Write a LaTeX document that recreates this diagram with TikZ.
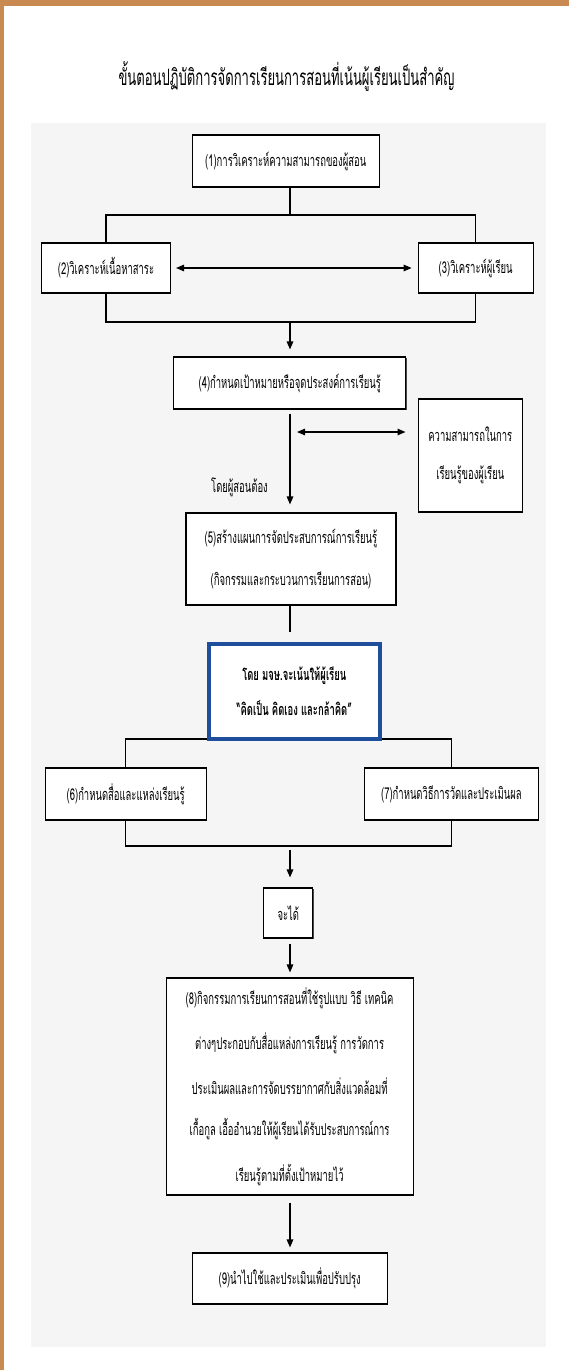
\documentclass[tikz,border=0pt]{standalone}
\usepackage{fontspec}
\newfontfamily\thaifont[Script=Thai,FakeStretch=0.58]{Loma}
\usetikzlibrary{arrows.meta,shadows}
\definecolor{wood}{HTML}{C98A52}
\definecolor{panelgray}{HTML}{F5F5F5}
\definecolor{frameblue}{HTML}{1F4F9C}

\begin{document}
\begin{tikzpicture}[
    x=1pt, y=-1pt,
    every node/.style={font=\thaifont\fontsize{16.3}{17}\selectfont},
    stepbox/.style={draw, line width=1.1pt, fill=white, align=center, inner sep=0pt,
        drop shadow={shadow xshift=0.8pt, shadow yshift=-1pt, opacity=0.7, fill=black}},
    link/.style={line width=1.3pt},
    flow/.style={link, -{Triangle[length=8pt,width=6.5pt]}},
    twoway/.style={link, {Triangle[length=8pt,width=6.5pt]}-{Triangle[length=8pt,width=6.5pt]}},
]
\useasboundingbox (0,0) rectangle (569,1370);

% page, wooden frame and grey panel
\fill[white] (0,0) rectangle (569,1370);
\fill[wood] (0,0) rectangle (569,6);
\fill[wood] (0,0) rectangle (3.5,1370);
\fill[panelgray] (31,123) rectangle (546,1347);

\node (title) at (286.5,77) {\fontsize{22.5}{24}\selectfont ขั้นตอนปฏิบัติการจัดการเรียนการสอนที่เน้นผู้เรียนเป็นสำคัญ};

\coordinate (t1) at (290,215);
\coordinate (t2) at (290,322);
\coordinate (t3) at (290,432);
\coordinate (t4) at (290,739);
\coordinate (t5) at (290,846);

\node[stepbox, minimum width=187pt, minimum height=52pt] (s1) at (285.7,161) {(1)การวิเคราะห์ความสามารถของผู้สอน};
\node[stepbox, minimum width=129pt, minimum height=50pt] (s2) at (106,268) {(2)วิเคราะห์เนื้อหาสาระ};
\node[stepbox, minimum width=115pt, minimum height=50pt] (s3) at (475.7,268) {(3)วิเคราะห์ผู้เรียน};
\node[stepbox, minimum width=232pt, minimum height=52pt] (s4) at (289.8,383) {(4)กำหนดเป้าหมายหรือจุดประสงค์การเรียนรู้};
\node[stepbox, minimum width=104.5pt, minimum height=113pt] (ab) at (470.3,455.5) {ความสามารถในการ\\[21pt]เรียนรู้ของผู้เรียน};
\node (teacher) at (239.5,487) {โดยผู้สอนต้อง};
\node[stepbox, minimum width=210pt, minimum height=92pt] (s5) at (291,559) {(5)สร้างแผนการจัดประสบการณ์การเรียนรู้\\[23pt](กิจกรรมและกระบวนการเรียนการสอน)};

\node[stepbox, minimum width=160.7pt, minimum height=52pt] (s6) at (125.7,794) {(6)กำหนดสื่อและแหล่งเรียนรู้};
\node[stepbox, minimum width=173.4pt, minimum height=52pt] (s7) at (451.4,794) {(7)กำหนดวิธีการวัดและประเมินผล};

% upper part
\draw[link] (s1.south -| t1) -- (t1);
\draw[link] (s2.north) -- (s2.north |- t1) -- (s3.north |- t1) -- (s3.north);
\draw[twoway, shorten <=5pt, shorten >=6pt] (s2) -- (s3);
\draw[link] (s2.south) -- (s2.south |- t2) -- (s3.south |- t2) -- (s3.south);
\draw[flow, shorten >=7pt] (t2) -- (s4.north -| t2);
\draw[flow, shorten <=4pt, shorten >=8pt] (s4.south -| t2) -- (s5.north -| t2);
\draw[twoway, shorten <=7pt, shorten >=12pt] (t3) -- (ab.west |- t3);
\draw[link, shorten >=10pt] (s5.south -| t2) -- (t2 |- 0,642);
\draw[link] (s6.north) -- (s6.north |- t4) -- (s7.north |- t4) -- (s7.north);

% framed focus box
\node[draw=frameblue, line width=3pt, fill=white, align=center, minimum width=172pt, minimum height=96pt,
    font=\thaifont\bfseries\fontsize{16.3}{17}\selectfont] (focus) at (294.3,691.5)
    {โดย มจษ.จะเน้นให้ผู้เรียน\\[15pt]“คิดเป็น คิดเอง และกล้าคิด”};
\draw[frameblue, line width=0.9pt] ([shift={(3.5pt,-3.5pt)}]focus.north west) rectangle ([shift={(-3.5pt,3.5pt)}]focus.south east);

\node[stepbox, minimum width=49pt, minimum height=50pt] (get) at (288.3,913) {จะได้};
\node[stepbox, minimum width=247pt, minimum height=217pt] (s8) at (289.6,1086.5)
    {(8)กิจกรรมการเรียนการสอนที่ใช้รูปแบบ วิธี เทคนิค\\[23pt]ต่างๆประกอบกับสื่อแหล่งการเรียนรู้ การวัดการ\\[23pt]ประเมินผลและการจัดบรรยากาศกับสิ่งแวดล้อมที่\\[23pt]เกื้อกูล เอื้ออำนวยให้ผู้เรียนได้รับประสบการณ์การ\\[23pt]เรียนรู้ตามที่ตั้งเป้าหมายไว้};
\node[stepbox, minimum width=195pt, minimum height=51pt] (s9) at (289.7,1278.5) {(9)นำไปใช้และประเมินเพื่อปรับปรุง};

% lower part
\draw[link] (s6.south) -- (s6.south |- t5) -- (s7.south |- t5) -- (s7.south);
\draw[flow, shorten <=4pt, shorten >=10pt] (t5) -- (get.north -| t5);
\draw[flow, shorten <=5pt, shorten >=5pt] (get.south -| t5) -- (s8.north -| t5);
\draw[flow, shorten <=7pt, shorten >=5pt] (s8.south -| t5) -- (s9.north -| t5);

\end{tikzpicture}
\end{document}
